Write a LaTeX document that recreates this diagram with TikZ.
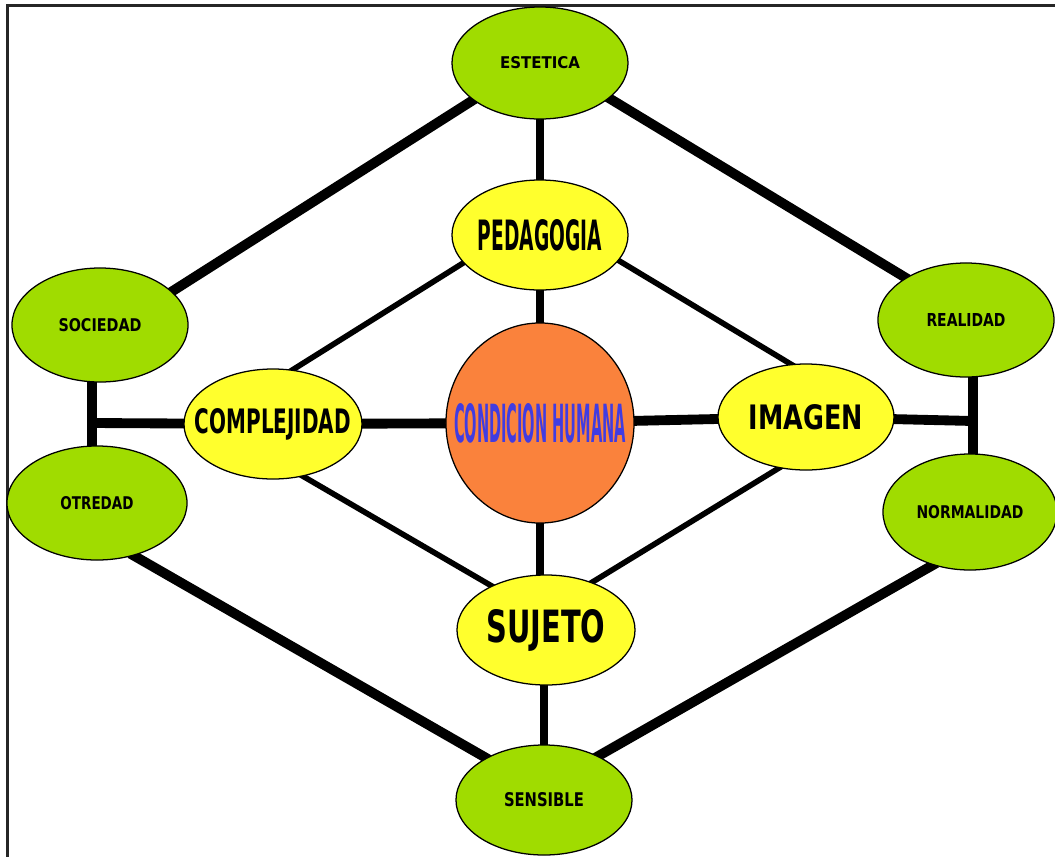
\documentclass[tikz,border=0pt]{standalone}
\usepackage{fontspec}
\usepackage{graphicx}
\setmainfont{DejaVu Sans}
\usetikzlibrary{shapes.geometric, backgrounds}

\definecolor{leafgreen}{RGB}{160,220,0}
\definecolor{sunyellow}{RGB}{255,255,45}
\definecolor{coreorange}{RGB}{250,130,60}
\definecolor{coreblue}{RGB}{65,60,225}

% one pixel of the page
\newlength{\pxu}
\setlength{\pxu}{0.025cm}
% squeezed bold label: width, cap height (in pixels), text
\newcommand{\lbl}[3]{\makebox[0pt]{\resizebox{#1\pxu}{#2\pxu}{\bfseries #3}}}

\begin{document}
\begin{tikzpicture}[x=0.025cm, y=-0.025cm,
	bubble/.style={ellipse, draw=black, line width=0.9pt, inner sep=0pt},
	outer/.style={bubble, fill=leafgreen, minimum width=4.4cm, minimum height=2.8cm},
	inner/.style={bubble, fill=sunyellow, minimum width=4.4cm, minimum height=2.75cm},
	heavy/.style={line width=7pt, shorten <=-3pt, shorten >=-3pt},
	medium/.style={line width=5pt, shorten <=-3pt, shorten >=-3pt},
	light/.style={line width=4pt, shorten <=-3pt, shorten >=-3pt}]
	
	% --- 1. PAGE ---
	\useasboundingbox (0,0) rectangle (1055,857);
	\draw[line width=1.6pt, black!85] (7.5,857) -- (7.5,5.5) -- (1055,5.5);
	
	% --- 2. OUTER RING (green) ---
	\node[outer] (est) at (540,63) {\lbl{80}{12}{ESTETICA}};
	\node[outer, minimum height=2.85cm] (soc) at (100,325) {\lbl{83}{13}{SOCIEDAD}};
	\node[outer, minimum width=4.5cm, minimum height=2.85cm] (otr) at (97,503) {\lbl{73}{13}{OTREDAD}};
	\node[outer, minimum height=2.85cm] (real) at (966,320) {\lbl{79}{13}{REALIDAD}};
	\node[outer, minimum width=4.35cm, minimum height=2.9cm] (norm) at (970,512) {\lbl{107}{13}{NORMALIDAD}};
	\node[outer, minimum height=2.75cm] (sens) at (544,800) {\lbl{80}{14}{SENSIBLE}};
	
	% --- 3. INNER RING (yellow) ---
	\node[inner] (ped) at (540,235) {\lbl{124}{31}{PEDAGOGIA}};
	\node[inner, minimum width=4.45cm] (comp) at (273,424) {\lbl{156}{25}{COMPLEJIDAD}};
	\node[inner, minimum height=2.65cm] (imag) at (806,417) {\lbl{114}{25}{IMAGEN}};
	\node[inner, minimum width=4.45cm] (suj) at (546,630) {\lbl{119}{33}{SUJETO}};
	
	% --- 4. CENTRE (orange) ---
	\node[bubble, fill=coreorange, text=coreblue, minimum width=4.7cm, minimum height=5cm] (cond) at (540,423) {\lbl{172}{39}{CONDICION HUMANA}};
	
	% Junctions of the side bars
	\coordinate (jl) at (92,423);
	\coordinate (jr) at (973,421);
	
	% --- 5. CONNECTORS (behind the bubbles) ---
	\begin{scope}[on background layer]
		% outer frame
		\draw[heavy] (est.209) -- (soc.25);
		\draw[heavy] (est.333) -- (real.145);
		\draw[heavy] (otr.305) -- (sens.144);
		\draw[heavy] (norm.235) -- (sens.39);
		
		% side bars
		\draw[heavy] (jl |- soc.center) -- (jl |- otr.center);
		\draw[heavy] (jr |- real.center) -- (jr |- norm.center);
		\draw[heavy] (jl) -- (comp);
		\draw[heavy] (imag) -- (jr);
		
		% horizontal axis
		\draw[heavy] (comp) -- (cond);
		\draw[heavy] (cond) -- (imag);
		
		% vertical axis
		\draw[medium] (est) -- (ped);
		\draw[medium] (ped) -- (cond);
		\draw[medium] (cond.center) -- (cond.center |- suj.center);
		\draw[medium] (suj.center -| sens.center) -- (sens.center);
		
		% inner diamond
		\draw[light] (ped.200) -- (comp.70);
		\draw[light] (ped.342) -- (imag.106);
		\draw[light] (comp.300) -- (suj.141);
		\draw[light] (imag.242) -- (suj.46);
	\end{scope}
	
\end{tikzpicture}
\end{document}
